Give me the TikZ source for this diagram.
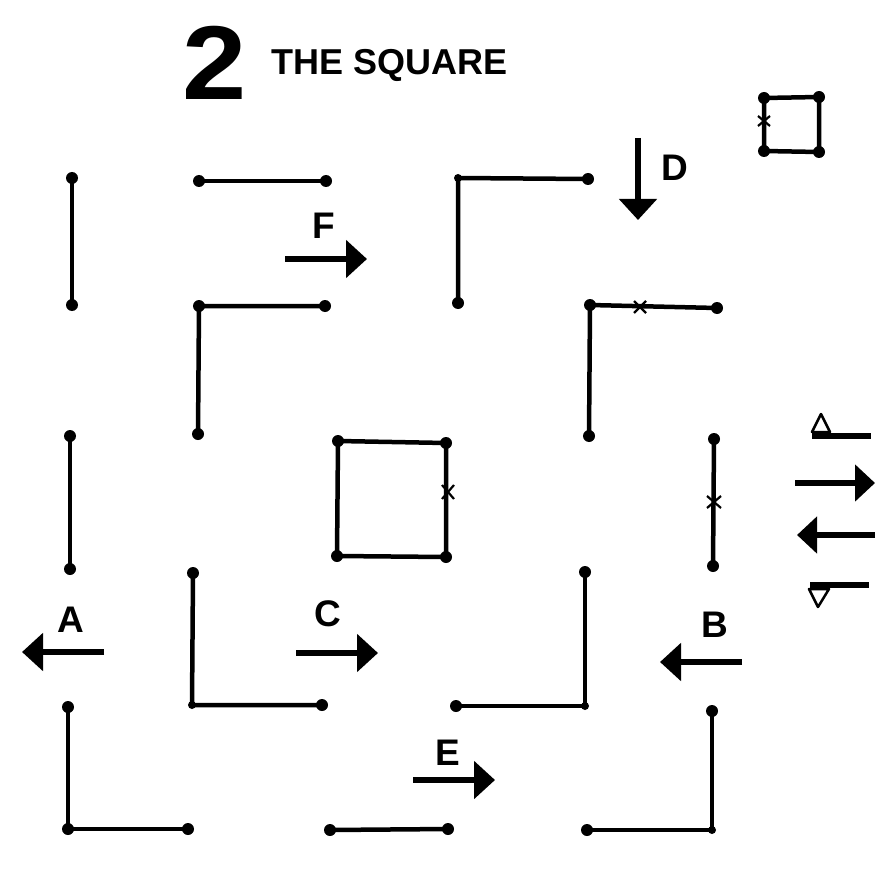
\documentclass[tikz,border=0pt]{standalone}
\usepackage{fontspec}
\setmainfont{Liberation Sans}
\usetikzlibrary{arrows.meta,calc}
\begin{document}
\begin{tikzpicture}[x=1pt,y=-1pt,
  dot/.style={circle,fill=black,inner sep=0pt,minimum size=12pt},
  cdot/.style={circle,fill=black,inner sep=0pt,minimum size=8pt},
  wall/.style={line width=4.5pt,line cap=round},
  bigarrow/.style={line width=6.5pt,-{Triangle[length=21pt,width=37pt]}},
  midarrow/.style={line width=6.5pt,-{Triangle[length=20pt,width=36pt]}},
  lbl/.style={font=\bfseries\fontsize{37}{37}\selectfont,anchor=base,inner sep=0pt},
  xmark/.style={line width=2.2pt},
  opentri/.style={line width=2.5pt,draw=black,fill=white,line join=round}]
\useasboundingbox (0,0) rectangle (890,877);
\fill[white] (0,0) rectangle (890,877);

% title
\node[anchor=base west,inner sep=0pt,xscale=1.1,transform shape,font=\bfseries\fontsize{105}{105}\selectfont] (num) at (182,100) {2};
\node[anchor=base west,inner sep=0pt,font=\bfseries\fontsize{36}{36}\selectfont] (title) at (271,75) {THE SQUARE};

% ---- row 1
\node[dot] (r1a) at (72,178) {};
\node[dot] (r1b) at (72,305) {};
\draw[wall] (r1a.center) -- (r1b.center);

\node[dot] (r1c) at (199,181) {};
\node[dot] (r1d) at (326,181) {};
\draw[wall] (r1c.center) -- (r1d.center);

\node[cdot] (r1e) at (458,178) {};
\node[dot] (r1f) at (588,179) {};
\node[dot] (r1g) at (458,303) {};
\draw[wall] (r1f.center) -- (r1e.center) -- (r1g.center);

% small square top right
\node[dot] (s1) at (764,98) {};
\node[dot] (s2) at (819,97) {};
\node[dot] (s3) at (819,152) {};
\node[dot] (s4) at (764,151) {};
\draw[wall] (s1.center) -- (s2.center) -- (s3.center) -- (s4.center) -- cycle;
\coordinate (sx) at (764,121);
\draw[xmark] ($(sx)+(-6,-5)$) -- ($(sx)+(6,5)$) ($(sx)+(-6,5)$) -- ($(sx)+(6,-5)$);

% ---- row 2
\node[dot] (r2a) at (199,306) {};
\node[dot] (r2b) at (325,306) {};
\node[dot] (r2c) at (198,434) {};
\draw[wall] (r2b.center) -- (r2a.center) -- (r2c.center);

\node[dot] (r2d) at (590,305) {};
\node[dot] (r2e) at (717,308) {};
\node[dot] (r2f) at (589,436) {};
\draw[wall] (r2e.center) -- (r2d.center) -- (r2f.center);
\coordinate (x2) at (640,307);
\draw[xmark] ($(x2)+(-6,-6)$) -- ($(x2)+(6,6)$) ($(x2)+(-6,6)$) -- ($(x2)+(6,-6)$);

% ---- row 3
\node[dot] (r3a) at (70,436) {};
\node[dot] (r3b) at (70,569) {};
\draw[wall] (r3a.center) -- (r3b.center);

\node[dot] (c1) at (338,441) {};
\node[dot] (c2) at (446,443) {};
\node[dot] (c3) at (446,557) {};
\node[dot] (c4) at (337,556) {};
\draw[wall,line join=round] (c1.center) -- (c2.center) -- (c3.center) -- (c4.center) -- cycle;
\coordinate (cx) at (448,492);
\draw[xmark] ($(cx)+(-6,-7)$) -- ($(cx)+(6,7)$) ($(cx)+(-6,7)$) -- ($(cx)+(6,-7)$);

\node[dot] (r3c) at (714,439) {};
\node[dot] (r3d) at (713,566) {};
\draw[wall] (r3c.center) -- (r3d.center);
\coordinate (x3) at (714,502);
\draw[xmark] ($(x3)+(-7,-6)$) -- ($(x3)+(7,6)$) ($(x3)+(-7,6)$) -- ($(x3)+(7,-6)$);

% ---- row 4
\node[dot] (r4a) at (193,573) {};
\node[cdot] (r4b) at (192,705) {};
\node[dot] (r4c) at (322,705) {};
\draw[wall] (r4a.center) -- (r4b.center) -- (r4c.center);

\node[dot] (r4d) at (585,572) {};
\node[cdot] (r4e) at (585,706) {};
\node[dot] (r4f) at (456,706) {};
\draw[wall] (r4d.center) -- (r4e.center) -- (r4f.center);

% ---- row 5
\node[dot] (r5a) at (68,707) {};
\node[dot] (r5b) at (68,829) {};
\node[dot] (r5c) at (188,829) {};
\draw[wall] (r5a.center) -- (r5b.center) -- (r5c.center);

\node[dot] (r5d) at (330,830) {};
\node[dot] (r5e) at (448,829) {};
\draw[wall] (r5d.center) -- (r5e.center);

\node[dot] (r5f) at (712,711) {};
\node[cdot] (r5g) at (712,830) {};
\node[dot] (r5h) at (587,830) {};
\draw[wall] (r5f.center) -- (r5g.center) -- (r5h.center);

% ---- lettered arrows
\coordinate (aS) at (104,652); \coordinate (aE) at (22,652);
\draw[bigarrow] (aS) -- (aE);
\node[lbl] (la) at (71,632) {A};

\coordinate (fS) at (285,259); \coordinate (fE) at (367,259);
\draw[bigarrow] (fS) -- (fE);
\node[lbl] (lf) at (324,238) {F};

\coordinate (dS) at (638,138); \coordinate (dE) at (638,220);
\draw[bigarrow] (dS) -- (dE);
\node[lbl] (ld) at (675,181) {D};

\coordinate (eS) at (413,780); \coordinate (eE) at (495,780);
\draw[bigarrow] (eS) -- (eE);
\node[lbl] (le) at (448,765) {E};

\coordinate (bS) at (742,662); \coordinate (bE) at (660,662);
\draw[bigarrow] (bS) -- (bE);
\node[lbl] (lb) at (715,637) {B};

\coordinate (cS) at (296,653); \coordinate (cE) at (378,653);
\draw[bigarrow] (cS) -- (cE);
\node[lbl] (lc) at (328,626) {C};

% ---- right-side legend
\coordinate (k1a) at (812,436); \coordinate (k1b) at (871,436);
\draw[line width=6pt] (k1a) -- (k1b);
\draw[opentri] (812,432) -- (821,414) -- (830,432) -- cycle;

\coordinate (k2a) at (795,483); \coordinate (k2b) at (875,483);
\draw[midarrow] (k2a) -- (k2b);

\coordinate (k3a) at (875,535); \coordinate (k3b) at (797,535);
\draw[midarrow] (k3a) -- (k3b);

\coordinate (k4a) at (810,585); \coordinate (k4b) at (869,585);
\draw[line width=6pt] (k4a) -- (k4b);
\draw[opentri] (809,589) -- (818,607) -- (829,589) -- cycle;
\end{tikzpicture}
\end{document}
